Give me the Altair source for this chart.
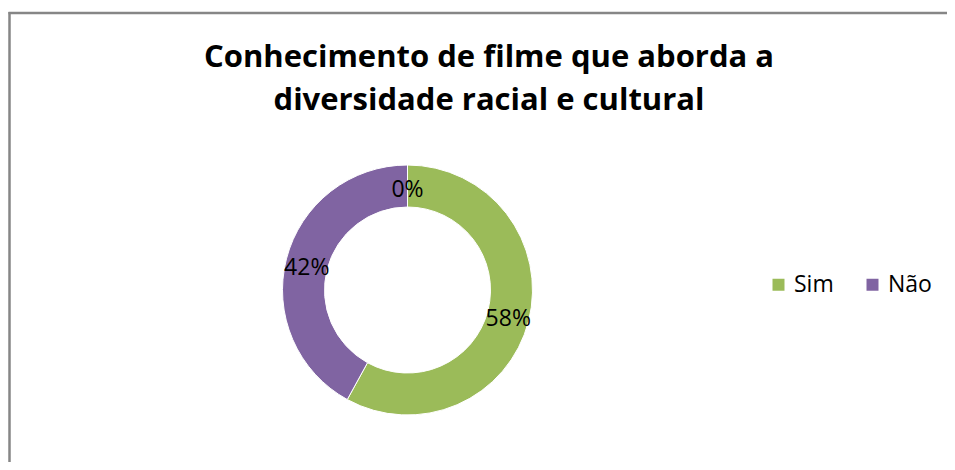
import altair as alt
import pandas as pd

categories = ["Sim", "Não", ""]
values = [58, 42, 0]
labels = ["58%", "42%", "0%"]
colors = ["#9BBB59", "#8064A2", "#4BACC6"]
title_lines = ["Conhecimento de filme que aborda a", "diversidade racial e cultural"]

FONT = "Open Sans"

df = pd.DataFrame({
    "cat": categories,
    "value": values,
    "label": labels,
    "ord": list(range(len(categories))),
})

W, H = 939, 454
CX, CY = 399.5, 282

color = alt.Color(
    "cat:N",
    scale=alt.Scale(domain=categories, range=colors),
    legend=alt.Legend(
        title=None,
        values=["Sim", "Não"],
        orient="none",
        direction="horizontal",
        legendX=759,
        legendY=265,
        symbolType="square",
        symbolSize=144,
        symbolStrokeWidth=0,
        labelFont=FONT,
        labelFontSize=23,
        labelColor="#000000",
        labelOffset=4,
        columnPadding=27,
    ),
)

base = alt.Chart(df)

arcs = base.mark_arc(outerRadius=125, innerRadius=83, stroke="white", strokeWidth=1).encode(
    theta=alt.Theta("value:Q", stack=True),
    color=color,
    order=alt.Order("ord:Q"),
    x=alt.value(CX),
    y=alt.value(CY),
)

texts = base.mark_text(font=FONT, fontSize=23, color="#000000", baseline="middle", align="center").encode(
    theta=alt.Theta("value:Q", stack=True),
    radius=alt.value(104),
    text="label:N",
    order=alt.Order("ord:Q"),
    x=alt.value(CX),
    y=alt.value(CY + 3.5),
)

title = alt.Chart(pd.DataFrame({"t": ["\n".join(title_lines)]})).mark_text(
    font=FONT, fontSize=31, fontWeight="bold", color="#000000",
    align="center", baseline="alphabetic", lineBreak="\n", lineHeight=43,
).encode(text="t:N", x=alt.value(481), y=alt.value(59))

one = pd.DataFrame({"a": [0]})
left_rule = alt.Chart(one).mark_rule(color="#868686", strokeWidth=2.5).encode(
    x=alt.value(1.5), y=alt.value(4), y2=alt.value(H)
)
top_rule = alt.Chart(one).mark_rule(color="#868686", strokeWidth=2.5).encode(
    x=alt.value(0.5), x2=alt.value(W), y=alt.value(5)
)

chart = alt.layer(left_rule, top_rule, title, arcs, texts).properties(
    width=W, height=H, padding=0,
    autosize=alt.AutoSizeParams(type="none"),
).configure_view(stroke=None)

chart.save("out.html", embed_options={"renderer": "svg", "actions": False})
